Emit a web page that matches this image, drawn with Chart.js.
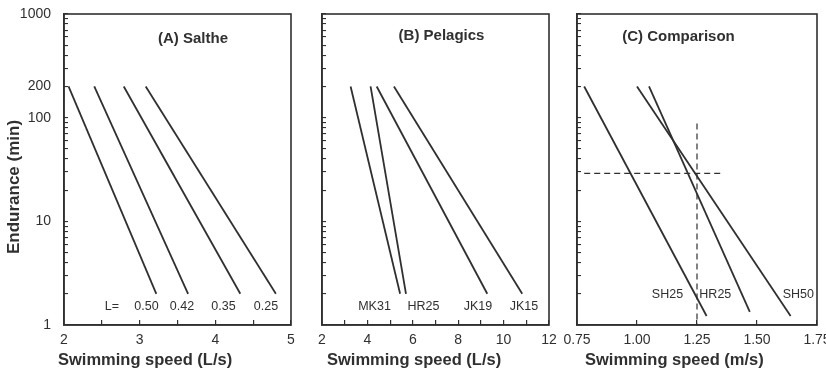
<!DOCTYPE html>
<html><head><meta charset="utf-8">
<script src="https://cdn.jsdelivr.net/npm/chart.js@4.4.1/dist/chart.umd.min.js"></script>
<style>
html,body{margin:0;padding:0;background:#fff;}
#wrap{position:relative;width:826px;height:376px;overflow:hidden;background:#fff;}
canvas{position:absolute;top:0;}
</style></head><body>
<div id="wrap">
<canvas id="cA" width="300" height="376" style="left:0px;width:300px;height:376px"></canvas>
<canvas id="cB" width="260" height="376" style="left:300px;width:260px;height:376px"></canvas>
<canvas id="cC" width="266" height="376" style="left:560px;width:266px;height:376px"></canvas>
</div>
<script>
// ---------- data ----------
const yTickValues = [1,2,3,4,5,6,7,8,9,10,20,30,40,50,60,70,80,90,100,200,300,400,500,600,700,800,900,1000];
const yTickLabels = [1,10,100,200,1000];

// (A) Saithe: speed (L/s) at 200 min and at 2 min
const saltheLabels = ['0.50','0.42','0.35','0.25'];
const saltheStart = [2.06, 2.40, 2.79, 3.08];
const saltheEnd   = [3.22, 3.64, 4.33, 4.80];
const saltheTop    = [200, 200, 200, 200];
const saltheBottom = [2, 2, 2, 2];
const xTicksA = [2,2.5,3,3.5,4,4.5,5];
const xLabelsA = [2,3,4,5];

// (B) Pelagics
const pelagicLabels = ['MK31','HR25','JK19','JK15'];
const pelagicStart = [3.26, 4.14, 4.41, 5.17];
const pelagicEnd   = [5.44, 5.70, 9.28, 10.82];
const pelagicTop    = [200, 200, 200, 200];
const pelagicBottom = [2, 2, 2, 2];
const xTicksB = [2,3,4,5,6,7,8,9,10,11,12];
const xLabelsB = [2,4,6,8,10,12];

// (C) Comparison (m/s)
const compLabels = ['SH25','HR25','SH50'];
const compStart = [0.78, 1.05, 1.00];
const compEnd   = [1.29, 1.47, 1.64];
const compTop    = [200, 200, 200];
const compBottom = [1.22, 1.34, 1.22];
const xTicksC = [0.75,1.00,1.25,1.50,1.75];
const xLabelsC = [0.75,1.00,1.25,1.50,1.75];
const refEndurance = 29;          // horizontal dashed line (min)
const refEnduranceSpan = [0.78, 1.36];
const refSpeed = 1.25;            // vertical dashed line (m/s)
const refSpeedSpan = [1, 88];

// ---------- styling ----------
const INK = '#303030';
const FONT = '"Liberation Sans", Arial, Helvetica, sans-serif';

function textPlugin(offsetX, items) {
  return {
    id: 'panelText',
    afterDraw(chart) {
      const ctx = chart.ctx;
      items.forEach(it => {
        ctx.save();
        ctx.font = it.font;
        ctx.fillStyle = it.color || INK;
        ctx.textAlign = it.align || 'center';
        ctx.textBaseline = 'middle';
        ctx.translate(it.x - offsetX, it.y);
        if (it.rot) ctx.rotate(it.rot);
        ctx.fillText(it.text, 0, 0);
        ctx.restore();
      });
    }
  };
}
const framePlugin = {
  id: 'frame',
  afterDraw(chart) {
    const a = chart.chartArea, ctx = chart.ctx;
    ctx.save();
    ctx.strokeStyle = INK;
    ctx.lineWidth = 1.6;
    ctx.strokeRect(a.left, a.top, a.right - a.left, a.bottom - a.top);
    ctx.restore();
  }
};

function lineSets(labels, start, end, top, bottom) {
  return labels.map((lab, i) => ({
    label: lab,
    data: [{x: start[i], y: top[i]}, {x: end[i], y: bottom[i]}],
    borderColor: INK, borderWidth: 1.8, pointRadius: 0, tension: 0, fill: false
  }));
}

function makeChart(id, cfg) {
  return new Chart(document.getElementById(id), {
    type: 'line',
    data: { datasets: cfg.datasets },
    options: {
      responsive: false, animation: false, events: [],
      layout: { padding: { top: 14, right: cfg.padRight, left: 0, bottom: 0 } },
      plugins: { legend: { display: false }, tooltip: { enabled: false } },
      scales: {
        x: {
          type: 'linear', min: cfg.xMin, max: cfg.xMax,
          afterBuildTicks: s => { s.ticks = cfg.xTicks.map(v => ({ value: v })); },
          afterFit: s => { s.height = 51; s.paddingLeft = 0; s.paddingRight = 0; s.paddingTop = 0; s.paddingBottom = 0; },
          ticks: {
            autoSkip: false, maxRotation: 0, padding: 12, color: INK,
            font: { family: FONT, size: 14 },
            callback: v => cfg.xLabels.some(l => Math.abs(l - v) < 1e-9) ? cfg.fmt(v) : ''
          },
          grid: { drawOnChartArea: false, drawTicks: true, tickLength: -5, color: INK, lineWidth: 1.2 },
          border: { display: true, color: INK, width: 1.6 }
        },
        y: {
          type: 'logarithmic', min: 1, max: 1000,
          afterBuildTicks: s => { s.ticks = yTickValues.map(v => ({ value: v })); },
          afterFit: s => { s.width = cfg.yWidth; s.paddingTop = 0; s.paddingBottom = 0; s.paddingLeft = 0; s.paddingRight = 0; },
          ticks: {
            autoSkip: false, padding: 17, color: INK,
            font: { family: FONT, size: 14 },
            callback: v => (cfg.yLabels && yTickLabels.includes(v)) ? String(v) : ''
          },
          grid: { drawOnChartArea: false, drawTicks: true, tickLength: -4, color: INK, lineWidth: 1.1 },
          border: { display: true, color: INK, width: 1.6 }
        }
      }
    },
    plugins: [framePlugin, textPlugin(cfg.offsetX, cfg.texts)]
  });
}

const titleFont = 'bold 15px ' + FONT;
const axisFont = 'bold 16.5px ' + FONT;
const lblFont = '12.5px ' + FONT;

// Panel A
const labelXA = [146.5, 182, 223.5, 266];
makeChart('cA', {
  offsetX: 0, padRight: 9, yWidth: 64, yLabels: true,
  xMin: 2, xMax: 5, xTicks: xTicksA, xLabels: xLabelsA, fmt: v => String(v),
  datasets: lineSets(saltheLabels, saltheStart, saltheEnd, saltheTop, saltheBottom),
  texts: [
    { text: '(A) Salthe', x: 193, y: 39, font: titleFont },
    { text: 'L=', x: 112, y: 307, font: lblFont },
    ...saltheLabels.map((t, i) => ({ text: t, x: labelXA[i], y: 307, font: lblFont })),
    { text: 'Endurance (min)', x: 14, y: 187, font: 'bold 17px ' + FONT, rot: -Math.PI / 2 },
    { text: 'Swimming speed (L/s)', x: 58, y: 360, font: axisFont, align: 'left' }
  ]
});

// Panel B
const labelXB = [374.5, 423.5, 478, 524];
makeChart('cB', {
  offsetX: 300, padRight: 11, yWidth: 22, yLabels: false,
  xMin: 2, xMax: 12, xTicks: xTicksB, xLabels: xLabelsB, fmt: v => String(v),
  datasets: lineSets(pelagicLabels, pelagicStart, pelagicEnd, pelagicTop, pelagicBottom),
  texts: [
    { text: '(B) Pelagics', x: 441.5, y: 36, font: titleFont },
    ...pelagicLabels.map((t, i) => ({ text: t, x: labelXB[i], y: 307, font: lblFont })),
    { text: 'Swimming speed (L/s)', x: 327, y: 360, font: axisFont, align: 'left' }
  ]
});

// Panel C
const labelXC = [667.5, 715.3, 798.3];
const compSets = lineSets(compLabels, compStart, compEnd, compTop, compBottom);
compSets.push({
  label: 'ref-h', data: [{x: refEnduranceSpan[0], y: refEndurance}, {x: refEnduranceSpan[1], y: refEndurance}],
  borderColor: INK, borderWidth: 1.2, borderDash: [6, 4], pointRadius: 0, fill: false
});
compSets.push({
  label: 'ref-v', data: [{x: refSpeed, y: refSpeedSpan[1]}, {x: refSpeed, y: refSpeedSpan[0]}],
  borderColor: INK, borderWidth: 1.2, borderDash: [6, 4], pointRadius: 0, fill: false
});
makeChart('cC', {
  offsetX: 560, padRight: 9, yWidth: 17, yLabels: false,
  xMin: 0.75, xMax: 1.75, xTicks: xTicksC, xLabels: xLabelsC, fmt: v => v.toFixed(2),
  datasets: compSets,
  texts: [
    { text: '(C) Comparison', x: 678.5, y: 37, font: titleFont },
    ...compLabels.map((t, i) => ({ text: t, x: labelXC[i], y: 295, font: lblFont })),
    { text: 'Swimming speed (m/s)', x: 585, y: 360, font: axisFont, align: 'left' }
  ]
});
</script>
</body></html>
